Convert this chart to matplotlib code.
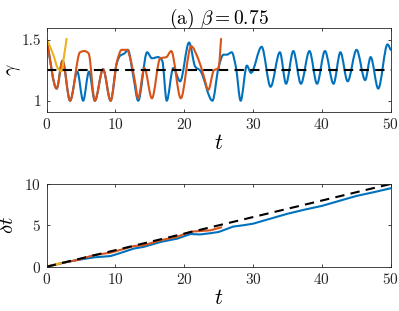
import numpy as np
import matplotlib
matplotlib.use("Agg")
import matplotlib.pyplot as plt
from matplotlib.path import Path
from matplotlib.patches import PathPatch

plt.rcParams['font.family'] = 'serif'
plt.rcParams['font.serif'] = ['cmr10', 'DejaVu Serif']
plt.rcParams['mathtext.fontset'] = 'cm'
plt.rcParams['axes.formatter.use_mathtext'] = True

# ---- data ----
blue_t = [0.0, 1.45, 2.3, 3.4, 4.45, 5.3, 6.15, 7.0, 8.2, 9.3, 10.2, 10.65, 11.3, 11.8,
          12.6, 13.3, 14.6, 15.3, 16.2, 16.8, 17.45, 18.4, 19.4, 20.7, 21.6, 22.3, 24.1,
          25.0, 25.7, 26.2, 26.9, 27.5, 28.2, 29.1, 29.7, 31.25, 32.55, 33.9, 34.8, 35.85,
          36.96, 38.2, 39.3, 40.45, 41.7, 42.7, 43.75, 45.05, 46.3, 47.1, 48.2, 49.55, 50.0]
blue_g = [1.50, 1.10, 1.33, 1.00, 1.24, 1.00, 1.24, 1.00, 1.26, 1.00, 1.31, 1.37, 1.39, 1.42,
          1.20, 1.00, 1.40, 1.35, 1.36, 1.33, 1.00, 1.27, 1.16, 1.48, 1.28, 1.25, 1.00,
          1.28, 1.38, 1.38, 1.40, 1.28, 1.00, 1.29, 1.23, 1.445, 1.115, 1.40, 1.14, 1.41,
          1.14, 1.41, 1.14, 1.41, 1.14, 1.40, 1.16, 1.42, 1.17, 1.36, 1.10, 1.465, 1.42]

orange_t = [0.0, 1.45, 2.3, 3.4, 4.85, 5.5, 6.1, 7.0, 8.2, 9.3, 10.2, 10.9, 11.7, 12.1,
            12.8, 13.3, 14.2, 15.3, 16.5, 17.4, 18.1, 19.5, 21.0, 22.0, 22.8, 23.5, 24.3,
            25.0, 25.35]
orange_g = [1.50, 1.10, 1.33, 1.00, 1.40, 1.41, 1.39, 1.00, 1.26, 1.00, 1.32, 1.42, 1.42, 1.36,
            1.17, 1.02, 1.27, 1.02, 1.35, 1.36, 1.41, 1.02, 1.45, 1.35, 1.21, 1.09, 1.25,
            1.27, 1.51]

yellow_t = [0.0, 0.96, 1.7, 2.2, 2.5, 2.9]
yellow_g = [1.51, 1.38, 1.26, 1.245, 1.36, 1.51]

gamma_ref = 1.25

blue_dt_t = [0, 2.5, 4.45, 6.9, 9.3, 10.5, 12.7, 14.1, 16.6, 19.0, 20.9, 22.3, 23.8, 25.0,
             25.8, 27.1, 28.5, 30, 32.5, 35, 37.5, 40, 42.5, 45, 47.5, 50]
blue_dt = [0, 0.5, 0.81, 1.13, 1.29, 1.6, 2.2, 2.4, 3.0, 3.4, 3.95, 3.9, 4.05, 4.2,
           4.44, 4.85, 5.0, 5.2, 5.8, 6.4, 6.9, 7.35, 7.95, 8.55, 9.0, 9.48]
orange_dt_t = [0, 2.5, 4.45, 6.9, 9.3, 12.7, 14.1, 16.6, 19.0, 20.9, 23.8, 25.35]
orange_dt = [0, 0.5, 0.81, 1.41, 1.7, 2.5, 2.6, 3.2, 3.63, 4.23, 4.4, 4.75]
yellow_dt_t = [0, 1.5, 2.9]
yellow_dt = [0, 0.32, 0.6]
ref_dt_t = [0, 50]
ref_dt = [0, 10]

xticks = [0, 10, 20, 30, 40, 50]
yticks_top = [1, 1.5]
yticks_bot = [0, 5, 10]

C_BLUE = '#0072BD'
C_ORANGE = '#D95319'
C_YELLOW = '#EDB120'


def smooth_path(ax, x, y, color, lw):
    """Draw a smooth curve through the data points using cubic Bezier segments
    (monotone Fritsch-Carlson tangents) in data coordinates."""
    x = np.asarray(x, float)
    y = np.asarray(y, float)
    h = np.diff(x)
    d = np.diff(y) / h
    m = np.zeros_like(y)
    m[0] = d[0]
    m[-1] = d[-1]
    for i in range(1, len(x) - 1):
        if d[i - 1] * d[i] <= 0:
            m[i] = 0.0
        else:
            w1 = 2 * h[i] + h[i - 1]
            w2 = h[i] + 2 * h[i - 1]
            m[i] = (w1 + w2) / (w1 / d[i - 1] + w2 / d[i])
    verts = [(x[0], y[0])]
    codes = [Path.MOVETO]
    for i in range(len(x) - 1):
        verts += [(x[i] + h[i] / 3, y[i] + m[i] * h[i] / 3),
                  (x[i + 1] - h[i] / 3, y[i + 1] - m[i + 1] * h[i] / 3),
                  (x[i + 1], y[i + 1])]
        codes += [Path.CURVE4] * 3
    patch = PathPatch(Path(verts, codes), facecolor='none', edgecolor=color,
                      lw=lw, capstyle='round', joinstyle='round')
    ax.add_patch(patch)


fig = plt.figure(figsize=(3.99, 3.11), dpi=100)
ax1 = fig.add_axes([0.117, 0.641, 0.862, 0.269])
ax2 = fig.add_axes([0.117, 0.1424, 0.862, 0.266])

LW = 1.5
DASH = (0, (4.5, 3))
smooth_path(ax1, blue_t, blue_g, C_BLUE, LW)
smooth_path(ax1, orange_t, orange_g, C_ORANGE, LW)
smooth_path(ax1, yellow_t, yellow_g, C_YELLOW, LW)
ax1.plot([0, 50], [gamma_ref, gamma_ref], color='k', ls=DASH, lw=LW)
ax1.set_xlim(0, 50)
ax1.set_ylim(0.91, 1.6)
ax1.set_yticks(yticks_top)
ax1.set_yticklabels(['1', '1.5'])
ax1.set_xticks(xticks)
ax1.set_xlabel(r'$t$', fontsize=16, labelpad=1)
ax1.set_ylabel(r'$\gamma$', fontsize=14)
ax1.yaxis.set_label_coords(-0.07, 0.5)
ax1.set_title(r'(a) $\beta = 0.75$', fontsize=14, pad=3)

ax2.plot(blue_dt_t, blue_dt, color=C_BLUE, lw=LW)
ax2.plot(orange_dt_t, orange_dt, color=C_ORANGE, lw=LW)
ax2.plot(yellow_dt_t, yellow_dt, color=C_YELLOW, lw=LW)
ax2.plot(ref_dt_t, ref_dt, color='k', ls=DASH, lw=LW)
ax2.set_xlim(0, 50)
ax2.set_ylim(0, 10)
ax2.set_yticks(yticks_bot)
ax2.set_xticks(xticks)
ax2.set_xlabel(r'$t$', fontsize=16, labelpad=1)
ax2.set_ylabel(r'$\delta t$', fontsize=15)
ax2.yaxis.set_label_coords(-0.085, 0.5)

for ax in (ax1, ax2):
    for s in ax.spines.values():
        s.set_color('#262626')
        s.set_linewidth(0.6)
    ax.tick_params(direction='in', length=2.5, width=0.6, top=True, right=True,
                   labelsize=11, colors='#262626', pad=4)

fig.savefig('out.png', dpi=100)
